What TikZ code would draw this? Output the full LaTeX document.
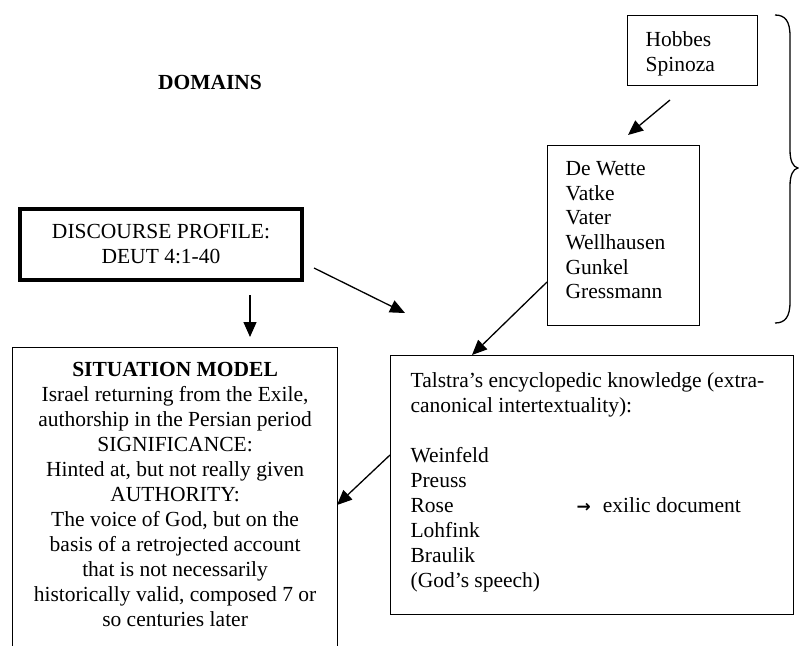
\documentclass[tikz,border=0pt]{standalone}
\usepackage{fontspec}
\setmainfont{Liberation Serif}
\newfontfamily\arrowfont{DejaVu Sans}
\usetikzlibrary{arrows.meta}
\begin{document}
\begin{tikzpicture}[x=1pt,y=-1pt,
  box/.style={draw, line width=1.2pt, inner sep=0pt, anchor=north west},
  arr/.style={line width=1.3pt, -{Triangle[length=15pt,width=13pt]}},
  every node/.style={font=\fontsize{21.5}{25}\selectfont}]
\useasboundingbox (0,0) rectangle (799,645);
\clip (0,0) rectangle (799,645);

% title
\node[font=\fontsize{21.5}{25}\selectfont\bfseries] (domains) at (210,82) {DOMAINS};

% Hobbes / Spinoza
\node[box] (hobbes) at (627,15)
  {\parbox[c][70pt][t]{130pt}{\raggedright\leftskip=18pt\rule{0pt}{31pt}Hobbes\\Spinoza}};

% De Wette ...
\node[box] (dewette) at (547,145)
  {\parbox[c][180pt][t]{152pt}{\fontsize{21.5}{24.6}\selectfont\raggedright\leftskip=18pt\rule{0pt}{30pt}De Wette\\Vatke\\Vater\\Wellhausen\\Gunkel\\Gressmann}};

% Discourse profile
\node[draw, line width=4pt, inner sep=0pt, minimum width=282pt, minimum height=71pt, align=center] (disc) at (161,244.5)
  {DISCOURSE PROFILE:\\DEUT 4:1-40};

% Situation model
\node[box] (sit) at (12,347)
  {\parbox[c][320pt][t]{325pt}{\centering\rule{0pt}{29pt}\textbf{SITUATION MODEL}\\
  Israel returning from the Exile,\\
  authorship in the Persian period\\
  SIGNIFICANCE:\\
  Hinted at, but not really given\\
  AUTHORITY:\\
  The voice of God, but on the\\
  basis of a retrojected account\\
  that is not necessarily\\
  historically valid, composed 7 or\\
  so centuries later}};

% Talstra
\node[box] (talstra) at (390,355)
  {\parbox[c][259pt][t]{403pt}{\raggedright\leftskip=20pt\rule{0pt}{32pt}Talstra’s encyclopedic knowledge (extra-\\
  canonical intertextuality):\\
  \mbox{}\\
  Weinfeld\\
  Preuss\\
  \leavevmode\rlap{Rose}\hspace*{166pt}{\arrowfont\bfseries\fontsize{17}{17}\selectfont →}\hspace*{12pt}exilic document\\
  Lohfink\\
  Braulik\\
  (God’s speech)}};

% brace
\draw[line width=1.3pt] (775,15) .. controls (785,15) and (790,21) .. (790,36)
  -- (790,150) .. controls (790,161) and (793,167) .. (798,168)
  .. controls (793,169) and (790,175) .. (790,186)
  -- (790,302) .. controls (790,317) and (785,323) .. (775,323);

% connector end points
\coordinate (h1) at (670,100);
\coordinate (d1) at (628,135);
\coordinate (p1) at (250,295);
\coordinate (s1) at (250,337);
\coordinate (p2) at (314,268);
\coordinate (p3) at (405,313);
\coordinate (w1) at (547,282);
\coordinate (t1) at (472,355);
\coordinate (t2) at (390,455);
\coordinate (s2) at (337,505);

\draw[arr] (h1) -- (d1);
\draw[arr] (p1) -- (s1);
\draw[arr] (p2) -- (p3);
\draw[arr] (w1) -- (t1);
\draw[arr] (t2) -- (s2);
\end{tikzpicture}
\end{document}
